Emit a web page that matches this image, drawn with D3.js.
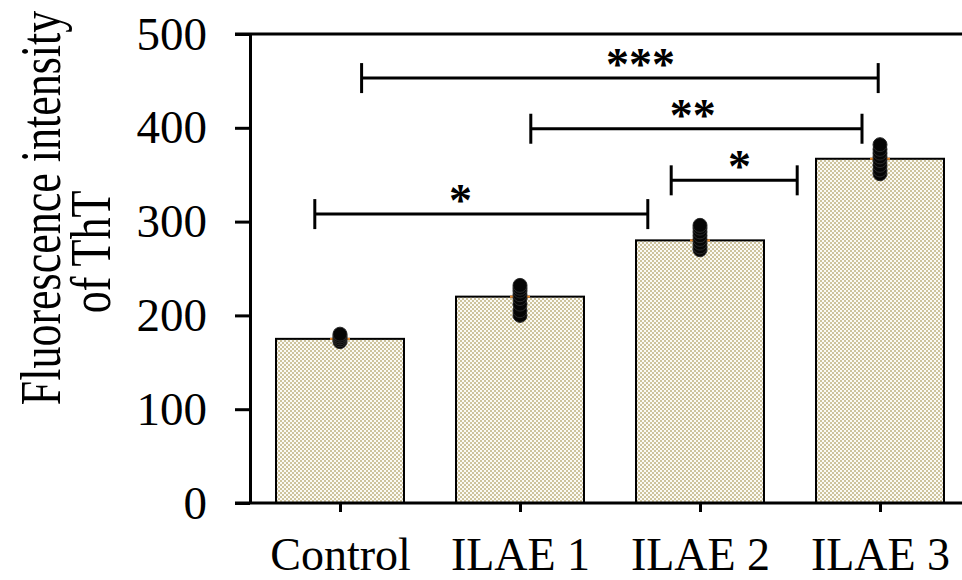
<!DOCTYPE html>
<html>
<head>
<meta charset="utf-8">
<script src="https://cdn.jsdelivr.net/npm/d3@7/dist/d3.min.js"></script>
<style>
  body { margin: 0; background: #fff; }
  svg { display: block; }
  text { font-family: "Liberation Serif", "Times New Roman", serif; fill: #000; }
</style>
</head>
<body>
<svg id="chart" width="962" height="580"></svg>
<script>
// data
var groups = ["Control", "ILAE 1", "ILAE 2", "ILAE 3"];
var means = [175, 220, 280, 367];
var controlPts = [172, 174, 176, 178, 180];
var ilae1Pts = [200, 205, 212, 218, 222, 226, 229, 232];
var ilae2Pts = [270, 273, 277, 281, 285, 289, 293, 296];
var ilae3Pts = [351, 355, 360, 365, 369, 373, 377, 382];
var yTicks = [0, 100, 200, 300, 400, 500];

// significance brackets: ends and label spot in group-index units
var sigLabels = ["***", "**", "*", "*"];
var sigLevels = [453, 399, 344, 308];
var sigStart = [0.12, 1.06, 1.84, -0.14];
var sigEnd = [2.99, 2.90, 2.54, 1.71];
var sigMark = [1.67, 1.96, 2.22, 0.67];

var points = [controlPts, ilae1Pts, ilae2Pts, ilae3Pts];

var svg = d3.select("#chart");

var x = d3.scalePoint()
    .domain(groups)
    .range([340, 880]);

var xi = d3.scaleLinear()
    .domain([0, groups.length - 1])
    .range([340, 880]);

var y = d3.scaleLinear()
    .domain([0, 500])
    .range([503, 34]);

var barW = 128;

// checker pattern for the bars
var defs = svg.append("defs");
var pat = defs.append("pattern")
    .attr("id", "checker")
    .attr("patternUnits", "userSpaceOnUse")
    .attr("width", 4)
    .attr("height", 4);
pat.append("rect").attr("width", 4).attr("height", 4).attr("fill", "#fbfaf5");
pat.append("rect").attr("x", 0).attr("y", 0).attr("width", 2).attr("height", 2).attr("fill", "#cdc39d");
pat.append("rect").attr("x", 2).attr("y", 2).attr("width", 2).attr("height", 2).attr("fill", "#cdc39d");

// bars
svg.selectAll(".bar")
  .data(groups)
  .enter()
  .append("rect")
  .attr("class", "bar")
  .attr("x", function (d) { return x(d) - barW / 2; })
  .attr("y", function (d, i) { return y(means[i]); })
  .attr("width", barW)
  .attr("height", function (d, i) { return y(0) - y(means[i]); })
  .attr("fill", "url(#checker)")
  .attr("stroke", "#000")
  .attr("stroke-width", 2);

// little orange mean marks behind the points
svg.selectAll(".meanmark")
  .data(groups)
  .enter()
  .append("line")
  .attr("x1", function (d) { return x(d) - 10; })
  .attr("x2", function (d) { return x(d) + 10; })
  .attr("y1", function (d, i) { return y(means[i]); })
  .attr("y2", function (d, i) { return y(means[i]); })
  .attr("stroke", "#e8892c")
  .attr("stroke-width", 2);

// individual points
groups.forEach(function (g, i) {
  svg.selectAll(".pt" + i)
    .data(points[i])
    .enter()
    .append("circle")
    .attr("cx", x(g))
    .attr("cy", function (d) { return y(d); })
    .attr("r", 7)
    .attr("fill", "#050505")
    .attr("stroke", "#2a2a2a")
    .attr("stroke-width", 1);
});

// y axis
var yAxis = svg.append("g")
    .attr("transform", "translate(250,0)")
    .call(d3.axisLeft(y).tickValues(yTicks).tickSize(15).tickSizeOuter(0).tickPadding(28));
yAxis.select(".domain").attr("stroke", "#000").attr("stroke-width", 3);
yAxis.selectAll(".tick line").attr("stroke", "#000").attr("stroke-width", 3);
yAxis.selectAll(".tick text")
  .style("font-family", "'Liberation Serif', 'Times New Roman', serif")
  .style("font-size", "47px");

// x axis
var xAxis = svg.append("g")
    .attr("transform", "translate(0," + y(0) + ")")
    .call(d3.axisBottom(x).tickSize(9).tickSizeOuter(0).tickPadding(25));
xAxis.select(".domain").remove();
xAxis.selectAll(".tick line").attr("stroke", "#000").attr("stroke-width", 3);
xAxis.selectAll(".tick text")
  .style("font-family", "'Liberation Serif', 'Times New Roman', serif")
  .style("font-size", "46px");

// baseline and top frame
svg.append("line")
  .attr("x1", 235).attr("x2", 962)
  .attr("y1", y(0)).attr("y2", y(0))
  .attr("stroke", "#000").attr("stroke-width", 3);
svg.append("line")
  .attr("x1", 235).attr("x2", 962)
  .attr("y1", y(500)).attr("y2", y(500))
  .attr("stroke", "#000").attr("stroke-width", 3);

// significance brackets
sigLabels.forEach(function (lab, i) {
  var ly = y(sigLevels[i]);
  var g = svg.append("g");
  g.append("line")
    .attr("x1", xi(sigStart[i])).attr("x2", xi(sigEnd[i]))
    .attr("y1", ly).attr("y2", ly)
    .attr("stroke", "#000").attr("stroke-width", 3);
  [sigStart[i], sigEnd[i]].forEach(function (e) {
    g.append("line")
      .attr("x1", xi(e)).attr("x2", xi(e))
      .attr("y1", ly - 15).attr("y2", ly + 15)
      .attr("stroke", "#000").attr("stroke-width", 3);
  });
  g.append("text")
    .attr("x", xi(sigMark[i]))
    .attr("y", ly + 2)
    .attr("text-anchor", "middle")
    .style("font-size", "46px")
    .style("font-weight", "bold")
    .text(lab);
});

// y title (glyphs drawn taller across the axis, as in the figure)
var title = svg.append("text")
  .attr("transform", "translate(60,208) rotate(-90) scale(1,1.3)")
  .attr("text-anchor", "middle")
  .style("font-size", "44px");
title.append("tspan").attr("x", 0).attr("y", 0).text("Fluorescence intensity");
title.append("tspan").attr("x", 0).attr("dx", -44).attr("y", 38.5).text("of ThT");
</script>
</body>
</html>
